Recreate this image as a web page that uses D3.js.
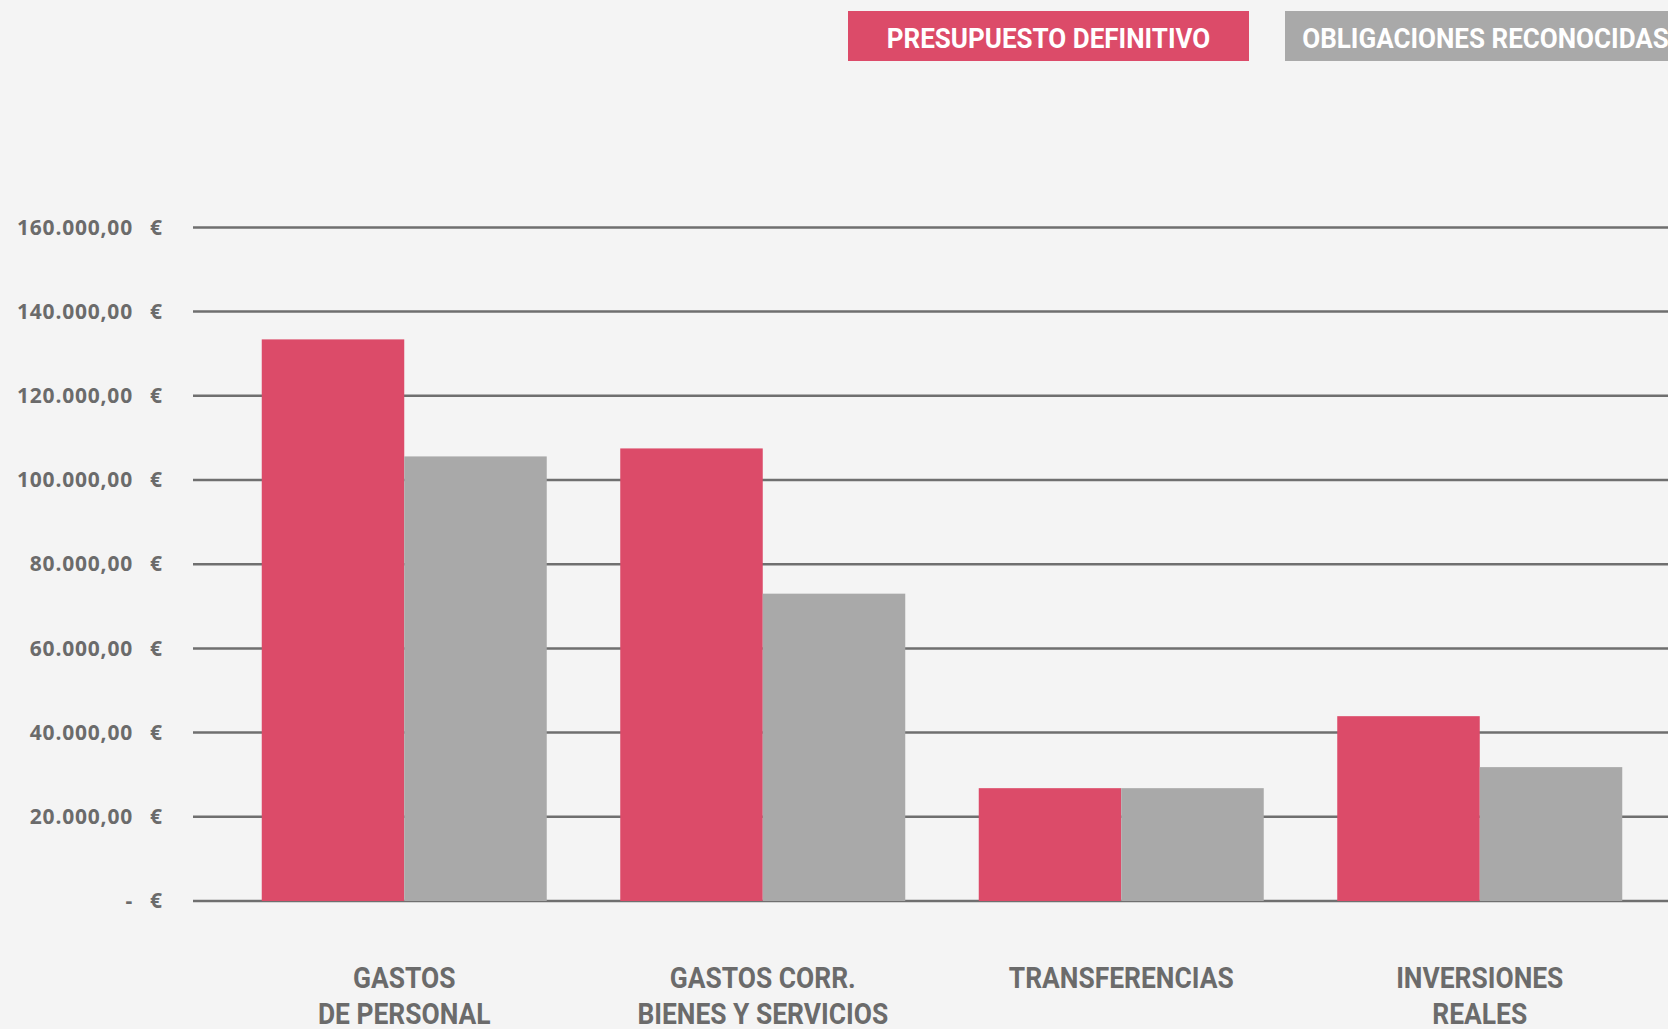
<!DOCTYPE html>
<html>
<head>
<meta charset="utf-8">
<script src="https://cdn.jsdelivr.net/npm/d3@7"></script>
<style>
  html, body { margin: 0; padding: 0; background: #f4f4f4; overflow: hidden; }
  svg { display: block; }
</style>
</head>
<body>
<div id="chart"></div>
<script>
// Presupuesto definitivo vs obligaciones reconocidas, by capítulo de gasto.
const categories = ["personal", "corrientes", "transferencias", "inversiones"];
const categoryLabels = [
  ["GASTOS", "DE PERSONAL"],
  ["GASTOS CORR.", "BIENES Y SERVICIOS"],
  ["TRANSFERENCIAS"],
  ["INVERSIONES", "REALES"]
];
const seriesNames = ["PRESUPUESTO DEFINITIVO", "OBLIGACIONES RECONOCIDAS"];
const presupuesto = [133400, 107500, 26800, 43900];
const obligaciones = [105600, 73000, 26800, 31800];
const yTicks = [0, 20000, 40000, 60000, 80000, 100000, 120000, 140000, 160000];

(function () {
  const W = 1668, H = 1029;
  const RED = "#dc4b69", GREY = "#a9a9a9", INK = "#6b6b6b", GRID = "#6f6f6f";
  const COND = 0.88; // horizontal squeeze for the condensed captions

  const svg = d3.select("#chart").append("svg")
    .attr("width", W).attr("height", H)
    .style("background", "#f4f4f4");

  const y = d3.scaleLinear().domain([0, 160000]).range([901, 227.4]);
  const x = d3.scaleBand().domain(categories).range([225, 1659])
    .paddingInner(0.205).paddingOuter(0.1025);
  const sub = d3.scaleBand().domain(seriesNames).range([0, x.bandwidth()]);
  const colour = d3.scaleOrdinal().domain(seriesNames).range([RED, GREY]);

  const es = d3.formatLocale({ decimal: ",", thousands: ".", grouping: [3], currency: ["", " €"] });
  const fmt = es.format(",.2f");

  // gridlines
  svg.append("g").selectAll("line").data(yTicks).join("line")
    .attr("x1", 193).attr("x2", W)
    .attr("y1", d => y(d)).attr("y2", d => y(d))
    .attr("stroke", GRID).attr("stroke-width", 2.5);

  // y axis labels
  const yAxis = svg.append("g").attr("transform", "translate(133,0)")
    .call(d3.axisLeft(y).tickValues(yTicks).tickSize(0).tickPadding(0)
      .tickFormat(d => d === 0 ? "-" : fmt(d)));
  yAxis.select(".domain").remove();
  yAxis.selectAll(".tick").append("text")
    .attr("x", 17).attr("dy", "0.32em")
    .attr("text-anchor", "start")
    .text("€");
  yAxis.selectAll("text")
    .attr("fill", INK)
    .style("font-family", "'Open Sans', sans-serif")
    .style("font-weight", 700)
    .style("font-size", "21px")
    .style("letter-spacing", "0.8px");

  // bars
  const rows = categories.map((c, i) => ({ cat: c, values: [presupuesto[i], obligaciones[i]] }));
  svg.append("g").selectAll("g").data(rows).join("g")
    .attr("transform", d => `translate(${x(d.cat)},0)`)
    .selectAll("rect").data(d => d.values.map((v, j) => ({ key: seriesNames[j], v })))
    .join("rect")
      .attr("x", d => sub(d.key))
      .attr("width", sub.bandwidth())
      .attr("y", d => y(d.v))
      .attr("height", d => y(0) - y(d.v))
      .attr("fill", d => colour(d.key));

  // category captions
  const cap = svg.append("g").selectAll("g").data(categories).join("g")
    .attr("transform", d => `translate(${x(d) + x.bandwidth() / 2},0)`);
  cap.selectAll("text").data((d, i) => categoryLabels[i]).join("text")
    .attr("transform", (d, j) => `translate(0,${988 + j * 36}) scale(${COND},1)`)
    .attr("text-anchor", "middle")
    .attr("fill", INK)
    .style("font-family", "Roboto, sans-serif")
    .style("font-weight", 700)
    .style("font-size", "30px")
    .text(d => d);

  // legend
  const legX = d3.scaleOrdinal().domain(seriesNames).range([848, 1285]);
  const leg = svg.append("g").selectAll("g").data(seriesNames).join("g")
    .attr("transform", d => `translate(${legX(d)},11)`);
  leg.append("rect").attr("width", 401).attr("height", 50).attr("fill", d => colour(d));
  leg.append("text")
    .attr("transform", "translate(200.5,37) scale(0.93,1)")
    .attr("text-anchor", "middle")
    .attr("fill", "#ffffff")
    .style("font-family", "Roboto, sans-serif")
    .style("font-weight", 700)
    .style("font-size", "28px")
    .text(d => d);
})();
</script>
</body>
</html>
